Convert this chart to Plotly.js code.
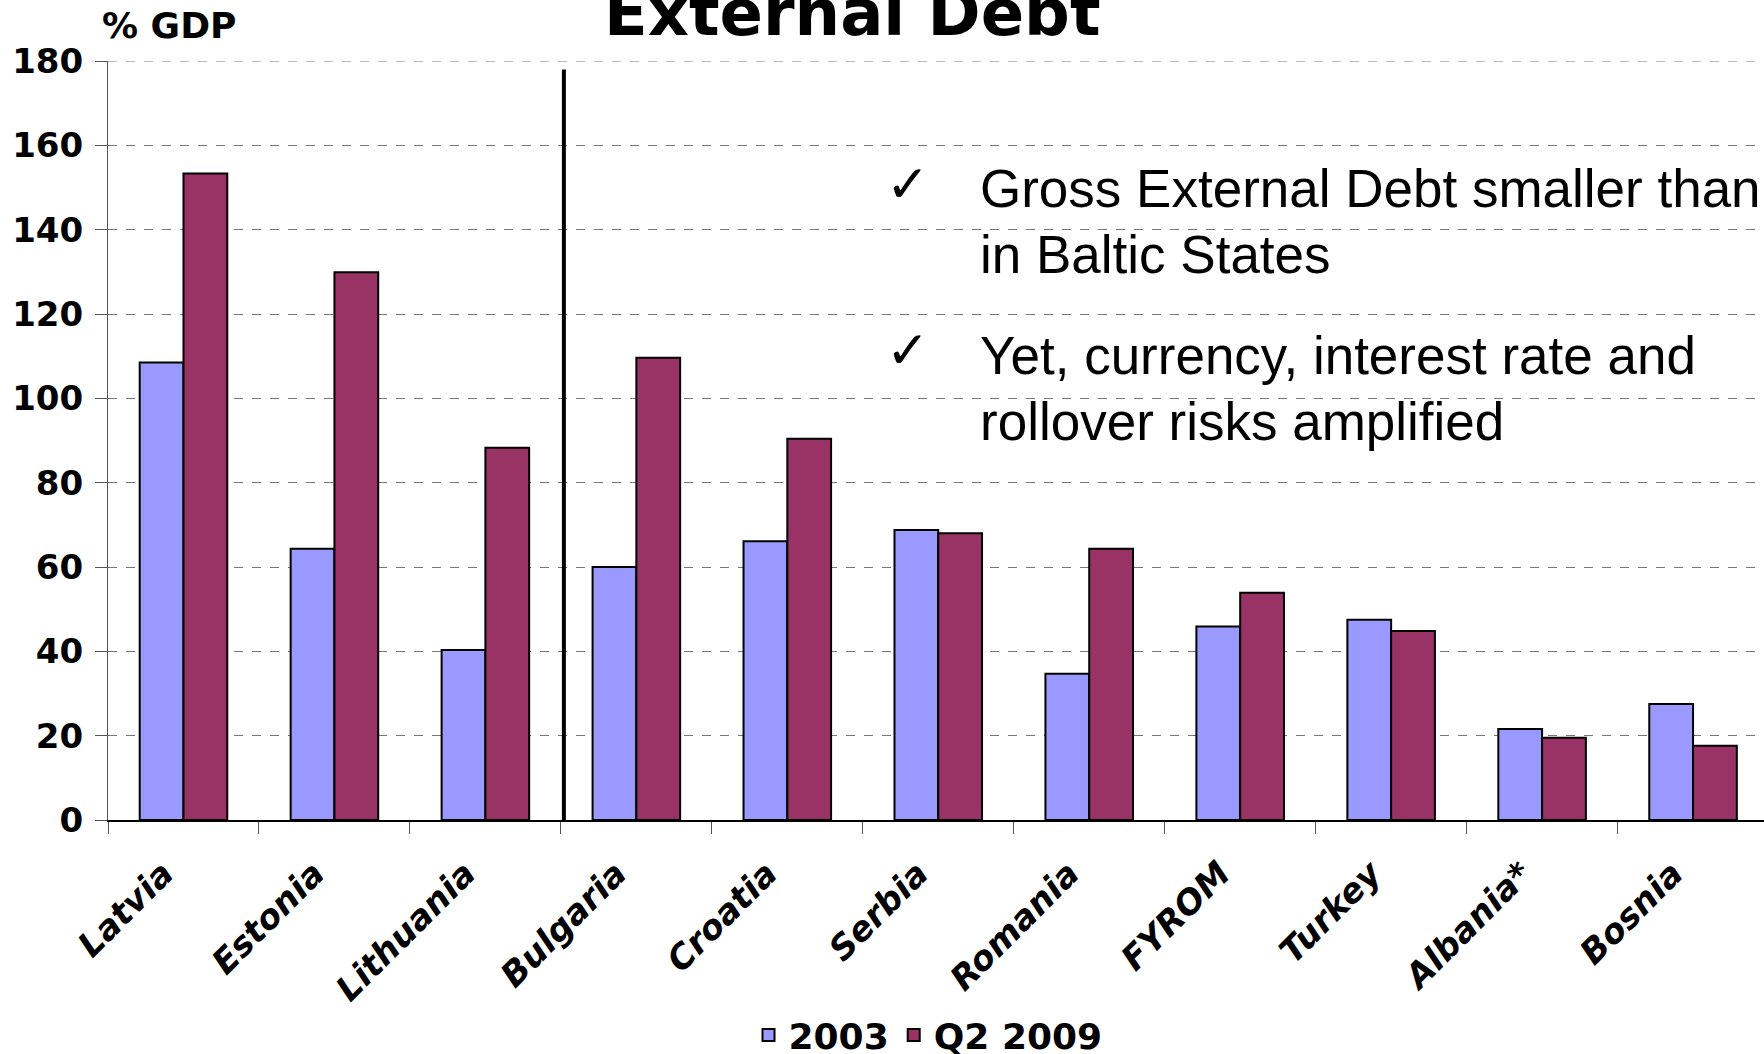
<!DOCTYPE html>
<html>
<head>
<meta charset="utf-8">
<script src="https://cdn.plot.ly/plotly-3.0.1.min.js"></script>
<style>html,body{margin:0;padding:0;background:#fff;}#chart{width:1764px;height:1054px;}</style>
</head>
<body>
<div id="chart"></div>
<script>
const categories = ['Latvia','Estonia','Lithuania','Bulgaria','Croatia','Serbia','Romania','FYROM','Turkey','Albania*','Bosnia'];
const debt2003 = [108.5, 64.3, 40.3, 60.0, 66.1, 68.8, 34.7, 45.9, 47.5, 21.6, 27.5];
const debtQ2_2009 = [153.3, 129.9, 88.3, 109.6, 90.4, 68.0, 64.3, 53.9, 44.8, 19.5, 17.6];
const seriesNames = ['2003', 'Q2 2009'];
const yTickValues = [0, 20, 40, 60, 80, 100, 120, 140, 160, 180];
const chartTitle = 'External Debt';
const unitLabel = '% GDP';
const bulletLines = [
  ['Gross External Debt smaller than', 'in Baltic States'],
  ['Yet, currency, interest rate and', 'rollover risks amplified']
];

const W = 1764, H = 1054;
const M = {l: 108, r: 0, t: 61, b: 234, autoexpand: false};
const PW = W - M.l - M.r, PH = H - M.t - M.b;
const px = x => (x - M.l) / PW;
const py = y => (H - M.b - y) / PH;

const boldFont = {family: 'DejaVu Sans, Verdana, sans-serif', weight: 'bold', color: '#000'};

const traces = [
  {type: 'bar', name: seriesNames[0], x: categories, y: debt2003,
   marker: {color: '#9999FF', line: {color: '#000', width: 2}}},
  {type: 'bar', name: seriesNames[1], x: categories, y: debtQ2_2009,
   marker: {color: '#993366', line: {color: '#000', width: 2}}}
];

const annotations = [
  {text: chartTitle, xref: 'paper', yref: 'paper', x: px(852), y: py(52), xanchor: 'center', yanchor: 'bottom',
   showarrow: false, font: Object.assign({}, boldFont, {size: 64})},
  {text: unitLabel, xref: 'paper', yref: 'paper', x: px(100), y: py(26), xanchor: 'left', yanchor: 'middle',
   showarrow: false, font: Object.assign({}, boldFont, {size: 36})}
];
const lineY = [[189, 254], [355, 421]];
const checkY = [184, 350];
bulletLines.forEach((lines, i) => {
  annotations.push({text: '\u2713', xref: 'paper', yref: 'paper', x: px(908), y: py(checkY[i]), xanchor: 'center', yanchor: 'middle',
    showarrow: false, font: {family: 'DejaVu Sans, sans-serif', size: 52, color: '#000'}});
  lines.forEach((t, j) => {
    annotations.push({text: t, xref: 'paper', yref: 'paper', x: px(978), y: py(lineY[i][j]), xanchor: 'left', yanchor: 'middle',
      showarrow: false, font: {family: 'Liberation Sans, Arial, sans-serif', size: 53, color: '#000'}});
  });
});

const layout = {
  width: W, height: H,
  margin: M,
  paper_bgcolor: '#fff', plot_bgcolor: '#fff',
  barmode: 'group', bargap: 0.42, bargroupgap: 0,
  showlegend: true,
  legend: {orientation: 'h', x: px(928), xanchor: 'center', y: py(1035), yanchor: 'middle',
    font: Object.assign({}, boldFont, {size: 36}), itemwidth: 30, traceorder: 'normal'},
  xaxis: {type: 'category', range: [-0.5, 10.47], automargin: false, tickson: 'boundaries', ticks: 'outside', ticklen: 12,
    tickcolor: '#555', tickwidth: 1, showline: true, linecolor: '#000', linewidth: 2, showgrid: false,
    tickangle: -45, ticklabelstandoff: 18, ticklabelshift: -20,
    tickfont: {family: 'DejaVu Sans, Verdana, sans-serif', weight: 'bold', style: 'italic', size: 34, color: '#000'}},
  yaxis: {range: [0, 180], automargin: false, tickvals: yTickValues, ticks: 'outside', ticklen: 12, tickcolor: '#555', tickwidth: 1,
    showline: true, linecolor: '#555', linewidth: 1, zeroline: false, ticklabelstandoff: 5,
    showgrid: true, gridcolor: '#777', griddash: 'dash', gridwidth: 1,
    tickfont: Object.assign({}, boldFont, {size: 34})},
  shapes: [
    {type: 'line', xref: 'paper', yref: 'y', x0: 0, x1: 1, y0: 180, y1: 180, line: {color: '#777', width: 1, dash: 'dash'}},
    {type: 'line', xref: 'x', yref: 'y', x0: 2.52, x1: 2.52, y0: -0.6, y1: 178, line: {color: '#000', width: 4}}
  ],
  annotations: annotations
};

Plotly.newPlot('chart', traces, layout, {staticPlot: true, displayModeBar: false});
</script>
</body>
</html>
